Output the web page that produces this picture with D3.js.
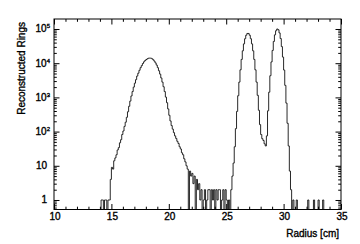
<!DOCTYPE html>
<html><head><meta charset="utf-8">
<script src="https://cdn.jsdelivr.net/npm/d3@7"></script>
<style>body{margin:0;background:#fff}svg{display:block}text{font-family:"Liberation Sans",Arial,Helvetica,sans-serif;fill:#000;stroke:#000;stroke-width:0.35px}</style>
</head><body><svg id="c" width="360" height="244"></svg>
<script>
// Histogram: bins of 0.1 cm starting at 14.0 cm
const binStart = 14.0;
const binWidth = 0.1;
const counts = [
0,1,1,0,1,1,0,1,1,4,
9,8,14,17,21,29,34,47,58,82,
104,142,188,262,380,550,780,1100,1480,2000,
2600,3300,4200,5100,6200,7400,8500,9800,11000,12000,
12800,13500,14000,14100,14000,13500,12600,11500,10200,8800,
7400,6000,4800,3700,2800,2050,1480,1020,700,460,
300,205,150,118,93,75,63,52,45,36,
31,24,21,16,13,10,8,0,7,5,
6,3,5,0,4,2,3,1,2,0,
1,2,0,1,2,2,0,2,1,2,
0,2,1,2,2,0,1,2,0,2,
1,0,1,0,2,5,12,36,122,390,
1120,2800,6400,12900,23000,36700,52000,65800,74000,74000,
65800,52000,36700,23000,12900,6400,2800,1150,420,160,
82,62,55,44,38,75,405,1420,4300,10900,
23600,43200,67400,89000,100000,94900,76700,52600,30600,15100,
6300,2250,680,175,38,7,2,0,1,0,
0,1,0,0,0,0,0,0,0,0,
0,1,0,0,0,0,1,0,0,0,
1,0,0,0,1
];
const xTicks = [10,15,20,25,30,35];
const yTicks = [1,10,100,1000,10000,100000];
const yTickBase = ["1","10","10","10","10","10"];
const yTickExp = ["","","2","3","4","5"];
const xTitle = "Radius [cm]";
const yTitle = "Reconstructed Rings";

const svg = d3.select("#c");
const L=54, R=341, T=19, B=209.5;
const x = d3.scaleLinear().domain([10,35]).range([L,R]);
const y = d3.scaleLog().domain([0.527,1.96e5]).range([B,T]);

// histogram step path
let p = "M"+x(binStart)+","+B;
counts.forEach((v,i)=>{
  const x0=x(binStart+i*binWidth), x1=x(binStart+(i+1)*binWidth);
  const yy = v>0 ? y(v) : B;
  p += "L"+x0+","+yy+"L"+x1+","+yy;
});
p += "L"+x(binStart+counts.length*binWidth)+","+B;
svg.append("path").attr("d",p).attr("fill","none").attr("stroke","#111").attr("stroke-width",0.9);

// minor ticks
const xMinor = d3.range(10,36,1).filter(v=>v%5!==0);
const yMinor = [];
for(let e=-1;e<=5;e++) for(let m=2;m<=9;m++){const v=m*Math.pow(10,e); if(v>=0.527&&v<=1.96e5) yMinor.push(v);}

function ax(gen, tr, vals, size){
  const g = svg.append("g").attr("transform",tr).call(gen.tickValues(vals).tickSize(size).tickFormat(""));
  g.select(".domain").remove();
  g.selectAll("line").attr("stroke","#000").attr("stroke-width",1);
  return g;
}
ax(d3.axisBottom(x), `translate(0,${B})`, xTicks, -5.5);
ax(d3.axisBottom(x), `translate(0,${B})`, xMinor, -2.8);
ax(d3.axisTop(x), `translate(0,${T})`, xTicks, -5.5);
ax(d3.axisTop(x), `translate(0,${T})`, xMinor, -2.8);
ax(d3.axisLeft(y), `translate(${L},0)`, yTicks, -5.5);
ax(d3.axisLeft(y), `translate(${L},0)`, yMinor, -2.8);
ax(d3.axisRight(y), `translate(${R},0)`, yTicks, -5.5);
ax(d3.axisRight(y), `translate(${R},0)`, yMinor, -2.8);

// frame
svg.append("rect").attr("x",L).attr("y",T).attr("width",R-L).attr("height",B-T)
  .attr("fill","none").attr("stroke","#000").attr("stroke-width",1);

// x labels
svg.selectAll(".xl").data(xTicks).enter().append("text")
  .attr("x",d=>x(d)+1).attr("y",220).attr("text-anchor","middle").attr("font-size",10).text(d=>d);
// y labels
yTicks.forEach((v,i)=>{
  const t = svg.append("text").attr("x",47).attr("y",y(v)+3.5).attr("text-anchor","end").attr("font-size",10);
  t.append("tspan").text(yTickBase[i]);
  if(yTickExp[i]){
    t.attr("x",50);
    t.append("tspan").attr("font-size",6).attr("dy",-4).text(yTickExp[i]);
  }
});
// titles
svg.append("text").attr("x",339).attr("y",237).attr("text-anchor","end").attr("font-size",10).text(xTitle);
svg.append("text").attr("transform","translate(25,22) rotate(-90)").attr("text-anchor","end").attr("font-size",10).text(yTitle);
</script></body></html>
